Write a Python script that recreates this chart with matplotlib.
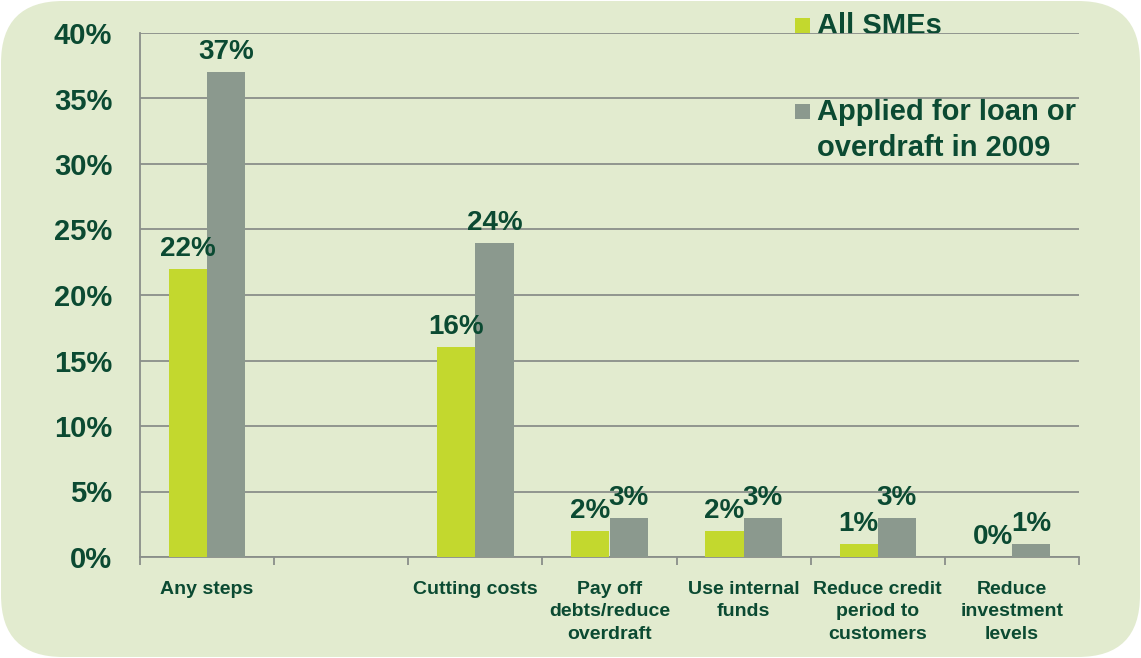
import numpy as np
import matplotlib.pyplot as plt
from matplotlib.patches import FancyBboxPatch, Rectangle

plt.rcParams['font.family'] = ['Liberation Sans', 'DejaVu Sans']
plt.rcParams['font.weight'] = 'bold'

# data
categories = ["Any steps", "", "Cutting costs", "Pay off\ndebts/reduce\noverdraft",
              "Use internal\nfunds", "Reduce credit\nperiod to\ncustomers",
              "Reduce\ninvestment\nlevels"]
all_smes = [22, np.nan, 16, 2, 2, 1, 0]
applied = [37, np.nan, 24, 3, 3, 3, 1]
series_names = ["All SMEs", "Applied for loan or\noverdraft in 2009"]

green = "#c3d82e"
grey = "#8b998e"
txt = "#0b4a32"
bg = "#e2ebcf"
gridc = "#8a8f8a"

fig = plt.figure(figsize=(11.41, 6.58), dpi=100)

# rounded background panel, in pixel coords (y up)
bgax = fig.add_axes([0, 0, 1, 1])
bgax.set_xlim(0, 1141)
bgax.set_ylim(0, 658)
bgax.axis("off")
bgax.add_patch(FancyBboxPatch((1, 1), 1139, 656, boxstyle="round,pad=0,rounding_size=62",
                              facecolor=bg, edgecolor="none"))

ax = fig.add_axes([140 / 1141, 1 - 557 / 658, (1079 - 140) / 1141, (557 - 33) / 658])
ax.set_facecolor("none")

x = np.arange(len(categories))
w = 0.285
b1 = ax.bar(x - w / 2, all_smes, w, color=green, zorder=3)
b2 = ax.bar(x + w / 2, applied, w, color=grey, zorder=3)

for xs, vals in ((x - w / 2, all_smes), (x + w / 2, applied)):
    for xi, v in zip(xs, vals):
        if np.isnan(v):
            continue
        ax.annotate(f"{v:.0f}%", (xi, v), xytext=(0, 5), textcoords="offset points",
                    ha="center", va="bottom", fontsize=20, color=txt, fontweight="bold")

ax.set_xlim(-0.5, len(categories) - 0.5)
ax.set_ylim(0, 40)
ax.set_yticks(np.arange(0, 41, 5))
ax.set_yticklabels([f"{t}%" for t in range(0, 41, 5)])
ax.yaxis.grid(True, color=gridc, linewidth=1.3, zorder=0)
ax.tick_params(axis="y", length=0, pad=20, labelsize=21, labelcolor=txt)

ax.set_xticks(x)
ax.set_xticklabels(categories, fontsize=14, color=txt, fontweight="bold", va="top",
                   linespacing=1.45)
ax.tick_params(axis="x", length=0, pad=17)
ax.set_xticks(np.arange(-0.5, len(categories)), minor=True)
ax.tick_params(axis="x", which="minor", length=6, color=gridc, width=1.3)

for s in ("top", "right"):
    ax.spines[s].set_visible(False)
for s in ("left", "bottom"):
    ax.spines[s].set_color(gridc)
    ax.spines[s].set_linewidth(1.3)

for lab in ax.get_yticklabels():
    lab.set_fontweight("bold")

# legend drawn by hand to match the reference placement
leg_items = [(green, series_names[0], 26, 25), (grey, series_names[1], 112, 111)]
for col, name, ytxt, ysq in leg_items:
    bgax.add_patch(Rectangle((795, 658 - ysq - 8), 15, 15, facecolor=col, edgecolor="none"))
    for k, line in enumerate(name.split("\n")):
        bgax.text(817, 658 - ytxt - 36 * k, line, fontsize=21, color=txt,
                  fontweight="bold", ha="left", va="center")

fig.savefig("out.png", dpi=100)
